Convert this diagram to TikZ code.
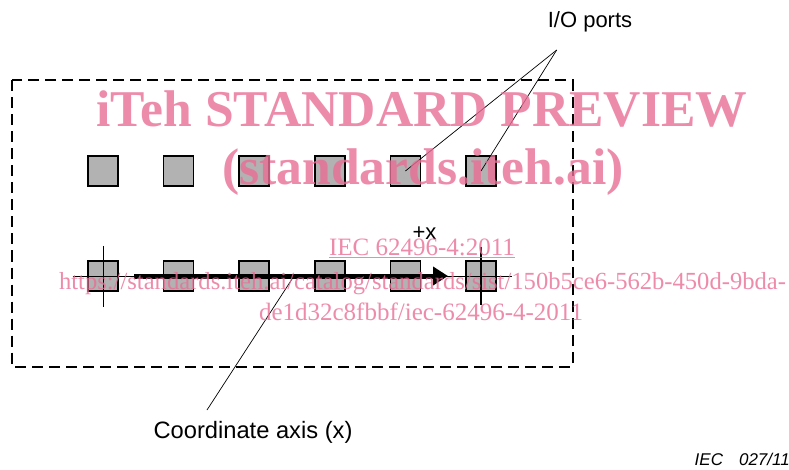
\documentclass[tikz,border=0pt]{standalone}
\usepackage{fontspec}
\setmainfont{Liberation Sans}
\newfontfamily\wmfont{Liberation Serif}
\usetikzlibrary{arrows.meta}
\definecolor{portgray}{RGB}{178,178,178}
\definecolor{wmpink}{RGB}{233,110,150}
\begin{document}
\begin{tikzpicture}[x=1pt,y=-1pt,
  port/.style={draw=black,line width=1.6pt,fill=portgray,minimum size=30pt,inner sep=0pt,outer sep=0pt},
  lbl/.style={font=\fontsize{22}{26}\selectfont,inner sep=0pt},
  leader/.style={line width=0.7pt},
  crossline/.style={line width=1.4pt},
  wm/.style={text=wmpink,opacity=0.8,inner sep=0pt,anchor=base}]
\useasboundingbox (0,0) rectangle (789,470);
% boundary
\draw[line width=2pt,dash pattern=on 11pt off 6pt] (12,80.5) rectangle (572.5,366.5);
% ports
\foreach \i/\x in {1/103,2/178.6,3/254.2,4/329.8,5/405.4,6/481}{
  \node[port] (t\i) at (\x,171) {};
  \node[port] (b\i) at (\x,276) {};
}
% axis and crosses
\coordinate (axL) at (72.7,276.5);
\coordinate (axR) at (512,276.5);
\coordinate (c1t) at (103.3,246);
\coordinate (c1b) at (103.3,307);
\coordinate (c2t) at (481,247);
\coordinate (c2b) at (481,305);
\coordinate (arS) at (134,276);
\coordinate (arE) at (448,276);
\draw[crossline] (axL) -- (axR);
\draw[crossline] (c1t) -- (c1b);
\draw[crossline] (c2t) -- (c2b);
\draw[line width=5pt,-{Triangle[length=15pt,width=18pt]}] (arS) -- (arE);
% labels
\node[lbl] (io) at (590,22) {I/O ports};
\coordinate (ioc) at (556.7,50);
\draw[leader] (ioc) -- (t5.center);
\draw[leader] (ioc) -- (t6.center);
\node[lbl] (px) at (424.5,233) {+x};
\node[lbl,font=\fontsize{23.7}{27}\selectfont] (ca) at (253,432) {Coordinate axis (x)};
\coordinate (axp) at (292.7,278);
\coordinate (cae) at (207,410);
\draw[leader] (axp) -- (cae);
\node[font=\fontsize{17}{19}\selectfont\itshape,anchor=east,inner sep=0pt] (fig) at (790,459) {IEC\hspace{16pt}027/11};
% watermark
\node[wm,font=\wmfont\bfseries\fontsize{51.6}{55}\selectfont] (wm1) at (422,127) {iTeh STANDARD PREVIEW};
\node[wm,font=\wmfont\bfseries\fontsize{51.6}{55}\selectfont] (wm2) at (423,185) {(standards.iteh.ai)};
\node[wm,font=\wmfont\fontsize{25}{28}\selectfont] (wm3) at (422,255.7) {\underline{IEC 62496-4:2011}};
\node[wm,font=\wmfont\fontsize{24.6}{28}\selectfont] (wm4) at (422.5,289) {https://standards.iteh.ai/catalog/standards/sist/150b5ce6-562b-450d-9bda-};
\node[wm,font=\wmfont\fontsize{25}{28}\selectfont] (wm5) at (421,320) {de1d32c8fbbf/iec-62496-4-2011};
\end{tikzpicture}
\end{document}
